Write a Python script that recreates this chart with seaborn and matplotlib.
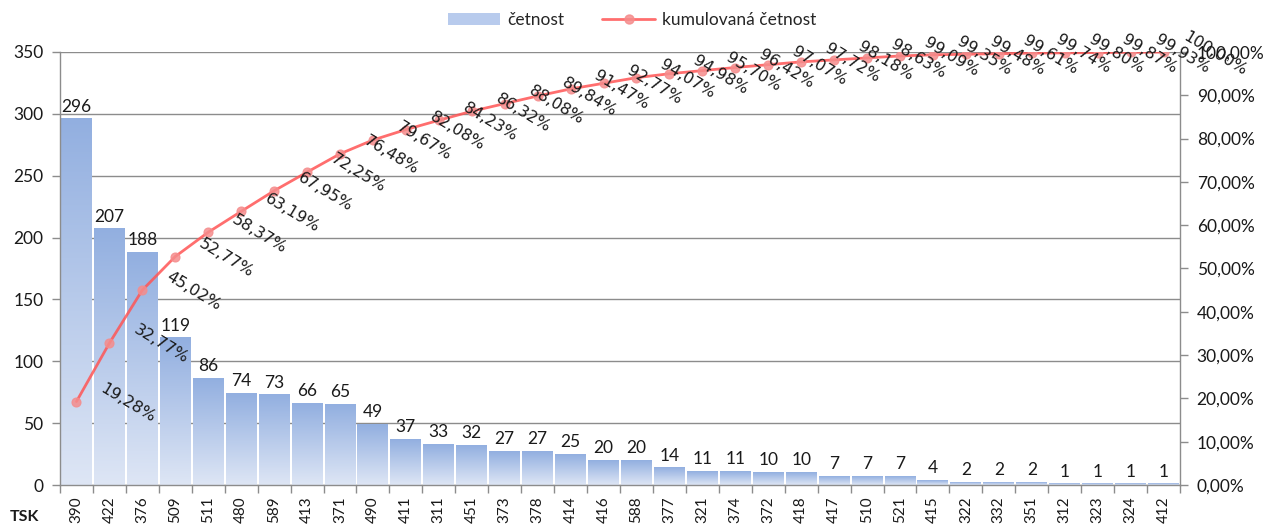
import numpy as np
import pandas as pd
import matplotlib
matplotlib.use("Agg")
import matplotlib.pyplot as plt
import seaborn as sns
from matplotlib.patches import Patch
from matplotlib.lines import Line2D
from matplotlib.font_manager import FontProperties
from matplotlib.ticker import FuncFormatter, MultipleLocator, FixedLocator

categories = ["390", "422", "376", "509", "511", "480", "589", "413", "371", "490",
              "411", "311", "451", "373", "378", "414", "416", "588", "377", "321",
              "374", "372", "418", "417", "510", "521", "415", "322", "332", "351",
              "312", "323", "324", "412"]
counts = [296, 207, 188, 119, 86, 74, 73, 66, 65, 49,
          37, 33, 32, 27, 27, 25, 20, 20, 14, 11,
          11, 10, 10, 7, 7, 7, 4, 2, 2, 2,
          1, 1, 1, 1]
cum_pct = [19.28, 32.77, 45.02, 52.77, 58.37, 63.19, 67.95, 72.25, 76.48, 79.67,
           82.08, 84.23, 86.32, 88.08, 89.84, 91.47, 92.77, 94.07, 94.98, 95.70,
           96.42, 97.07, 97.72, 98.18, 98.63, 99.09, 99.35, 99.48, 99.61, 99.74,
           99.80, 99.87, 99.93, 100.00]

df = pd.DataFrame({"TSK": categories, "četnost": counts,
                   "kum": np.array(cum_pct) / 100.0,
                   "pos": np.arange(len(categories))})

sns.set_theme(style="white")
plt.rcParams["font.family"] = ["Lato", "DejaVu Sans"]

fig = plt.figure(figsize=(12.73, 5.29), dpi=100)
ax = fig.add_axes([60 / 1273, 44 / 529, 1120 / 1273, 433 / 529])

sns.barplot(data=df, x="TSK", y="četnost", ax=ax, color="#a8bfe6",
            width=0.94, saturation=1, order=categories, zorder=2)

# gradient fill per bar
top_c = np.array([146, 175, 224]) / 255.0
bot_c = np.array([222, 230, 245]) / 255.0
grad = np.linspace(0, 1, 256)[:, None]
img = top_c[None, None, :] * (1 - grad[:, :, None]) + bot_c[None, None, :] * grad[:, :, None]
for p in ax.patches:
    x0, y0 = p.get_x(), p.get_y()
    w, h = p.get_width(), p.get_height()
    p.set_facecolor("none")
    p.set_edgecolor("none")
    ax.imshow(img, extent=[x0, x0 + w, y0, y0 + h], aspect="auto",
              origin="upper", zorder=2, interpolation="bilinear")

ax.set_xlim(-0.5, len(categories) - 0.5)
ax.set_ylim(0, 350)
ax.yaxis.set_major_locator(MultipleLocator(50))
ax.grid(axis="y", color="#8c8c8c", linewidth=1, zorder=0)
ax.set_axisbelow(True)
ax.set_xlabel("")
ax.set_ylabel("")

# bar labels
for i, v in enumerate(df["četnost"]):
    ax.annotate(str(v), (df["pos"][i], v), xytext=(0, 3), textcoords="offset points",
                ha="center", va="bottom", fontsize=12.5, color="#1a1a1a", zorder=5)

# x ticks between categories
ax.set_xticks(df["pos"])
ax.set_xticklabels(categories, rotation=90, fontsize=11, color="#1a1a1a")
ax.xaxis.set_minor_locator(FixedLocator(np.arange(-0.5, len(categories), 1.0)))
ax.tick_params(axis="x", which="major", length=0, pad=8)
ax.tick_params(axis="x", which="minor", length=6, color="#8c8c8c", width=1, direction="out", bottom=True)
ax.tick_params(axis="y", length=6, color="#8c8c8c", width=1, direction="out", left=True,
               labelsize=12.5, labelcolor="#1a1a1a", pad=6)

for s in ["top", "right"]:
    ax.spines[s].set_visible(False)
for s in ["left", "bottom"]:
    ax.spines[s].set_color("#8c8c8c")
    ax.spines[s].set_linewidth(1)

ax2 = ax.twinx()
sns.lineplot(data=df, x="pos", y="kum", ax=ax2, color="#ff5555", linewidth=2.0, alpha=0.85,
             marker="o", markersize=6.5, markerfacecolor=(0.96, 0.55, 0.55, 0.6),
             markeredgecolor=(0.96, 0.55, 0.55, 0.6), markeredgewidth=0.8, zorder=4)
ax2.set_ylim(0, 1)
ax2.yaxis.set_major_locator(MultipleLocator(0.1))
ax2.yaxis.set_major_formatter(FuncFormatter(lambda v, _: f"{v*100:.2f}%".replace(".", ",")))
ax2.tick_params(axis="y", length=6, color="#8c8c8c", width=1, direction="out", right=True,
                labelsize=12.5, labelcolor="#1a1a1a", pad=6)
ax2.set_xlabel("")
ax2.set_ylabel("")
ax2.grid(False)
for s in ["top", "left", "bottom"]:
    ax2.spines[s].set_visible(False)
ax2.spines["right"].set_color("#8c8c8c")
ax2.spines["right"].set_linewidth(1)
ax2.set_xlim(-0.5, len(categories) - 0.5)

lab_font = FontProperties(family="DejaVu Sans", size=11.5)
for i, v in enumerate(cum_pct):
    ax2.annotate(f"{v:.2f}%".replace(".", ","), (df["pos"][i], df["kum"][i]),
                 xytext=(37, -1), textcoords="offset points", ha="center", va="center",
                 rotation=-31, rotation_mode="anchor", fontproperties=lab_font,
                 color="#1a1a1a", zorder=6, annotation_clip=False)

fig.text(10 / 1273, 1 - 517 / 529, "TSK", fontsize=11.5, fontweight="bold",
         color="#1a1a1a", va="center", ha="left")

handles = [Patch(facecolor="#b8cbed", edgecolor="none"),
           Line2D([0], [0], color="#ff5555", lw=2.0, alpha=0.85, marker="o", markersize=6.5,
                  markerfacecolor=(0.96, 0.55, 0.55, 0.6), markeredgecolor=(0.96, 0.55, 0.55, 0.6))]
fig.legend(handles, ["četnost", "kumulovaná četnost"], loc="center",
           bbox_to_anchor=(632 / 1273, 1 - 20 / 529), ncol=2, frameon=False,
           fontsize=12.5, handlelength=3, columnspacing=2.2, handletextpad=0.4)

fig.savefig("out.png", dpi=100)
